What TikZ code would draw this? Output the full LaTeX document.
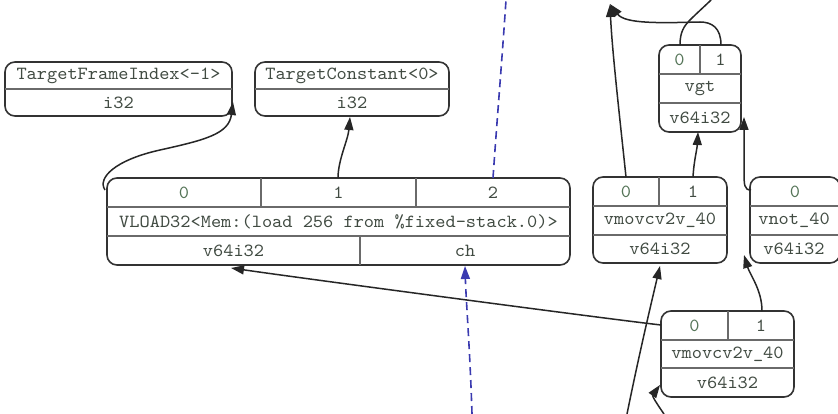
\documentclass[tikz,border=0pt]{standalone}
\usepackage{fontspec}
\setmonofont{lmmono10-regular.otf}[FakeStretch=1.05]
\usetikzlibrary{arrows.meta}
\definecolor{txt}{HTML}{414B42}
\definecolor{prt}{HTML}{557558}
\definecolor{brd}{HTML}{333333}
\definecolor{dvd}{HTML}{6A6A6A}
\definecolor{chn}{HTML}{3A3AB0}
\tikzset{
  rec/.style={draw=brd, line width=1.6pt, rounded corners=10pt, inner sep=0pt, fill=none},
  dvd/.style={draw=dvd, line width=1.1pt},
  lbl/.style={inner sep=0pt, text=txt, font=\ttfamily\fontsize{18.5}{20}\selectfont},
  prtl/.style={lbl, text=prt},
  edge/.style={draw=black!85, line width=1.5pt, -{Triangle[length=13pt,width=9pt]}},
  plain/.style={draw=black!85, line width=1.5pt},
  chain/.style={draw=chn, line width=1.6pt, dash pattern=on 8pt off 5pt},
  chainarr/.style={chain, -{Triangle[length=13pt,width=9pt]}}
}
\begin{document}
\begin{tikzpicture}[x=1pt,y=-1pt]
\useasboundingbox (0,0) rectangle (838,414);
\fill[white] (0,0) rectangle (838,414);

% TargetFrameIndex
\node[rec, minimum width=227pt, minimum height=54pt] (tfi) at (118.5,89) {};
\draw[dvd] (5,89) -- (232,89);
\node[lbl] (tfil) at (118.5,75.5) {TargetFrameIndex<-1>};
\node[lbl] (tfit) at (118.5,102.5) {i32};

% TargetConstant
\node[rec, minimum width=194pt, minimum height=54pt] (tc) at (352,89) {};
\draw[dvd] (255,89) -- (449,89);
\node[lbl] (tcl) at (352,75.5) {TargetConstant<0>};
\node[lbl] (tct) at (352,102.5) {i32};

% VLOAD32
\node[rec, minimum width=463pt, minimum height=87pt] (vl) at (338.5,221.5) {};
\draw[dvd] (107,207) -- (570,207);
\draw[dvd] (107,236) -- (570,236);
\draw[dvd] (261,178) -- (261,207);
\draw[dvd] (416,178) -- (416,207);
\draw[dvd] (360,236) -- (360,265);
\node[prtl] (vlp0) at (184,192.5) {0};
\node[lbl] (vlp1) at (338.5,192.5) {1};
\node[lbl] (vlp2) at (493,192.5) {2};
\node[lbl] (vll) at (338.5,221.5) {VLOAD32<Mem:(load 256 from \%fixed-stack.0)>};
\node[lbl] (vlt0) at (233.5,250.5) {v64i32};
\node[lbl] (vlt1) at (465,250.5) {ch};

% vgt
\node[rec, minimum width=82pt, minimum height=87pt] (vgt) at (700,88.5) {};
\draw[dvd] (659,74) -- (741,74);
\draw[dvd] (659,103) -- (741,103);
\draw[dvd] (700,45) -- (700,74);
\node[prtl] (vgtp0) at (679.5,59.5) {0};
\node[lbl] (vgtp1) at (720.5,59.5) {1};
\node[lbl] (vgtl) at (700,88.5) {vgt};
\node[lbl] (vgtt) at (700,117.5) {v64i32};

% vmovcv2v upper
\node[rec, minimum width=134pt, minimum height=86pt] (vma) at (660,220) {};
\draw[dvd] (593,206) -- (727,206);
\draw[dvd] (593,235) -- (727,235);
\draw[dvd] (659,177) -- (659,206);
\node[prtl] (vmap0) at (626,191.5) {0};
\node[lbl] (vmap1) at (693,191.5) {1};
\node[lbl] (vmal) at (660,220.5) {vmovcv2v\_40};
\node[lbl] (vmat) at (660,249) {v64i32};

% vnot
\node[rec, minimum width=90pt, minimum height=86pt] (vn) at (795,220) {};
\draw[dvd] (750,206) -- (840,206);
\draw[dvd] (750,235) -- (840,235);
\node[prtl] (vnp0) at (795,191.5) {0};
\node[lbl] (vnl) at (794,220.5) {vnot\_40};
\node[lbl] (vnt) at (794,249) {v64i32};

% vmovcv2v lower
\node[rec, minimum width=133pt, minimum height=86pt] (vmb) at (727.5,354) {};
\draw[dvd] (661,340) -- (794,340);
\draw[dvd] (661,368) -- (794,368);
\draw[dvd] (728,311) -- (728,340);
\node[prtl] (vmbp0) at (694.5,325.5) {0};
\node[lbl] (vmbp1) at (761,325.5) {1};
\node[lbl] (vmbl) at (727.5,354) {vmovcv2v\_40};
\node[lbl] (vmbt) at (727.5,382.5) {v64i32};

% connector end points
\coordinate (vlo0) at (105,190);
\coordinate (tfiin) at (233,102);
\coordinate (vlo1) at (338,178);
\coordinate (tcin) at (350,117);
\coordinate (vlo2) at (493,178);
\coordinate (topA) at (506,0);
\coordinate (botA) at (472,414);
\coordinate (vlin) at (465,266);
\coordinate (vmbo0) at (661,325);
\coordinate (vlin0) at (231,268);
\coordinate (botB) at (627,414);
\coordinate (vmain) at (660,266);
\coordinate (botC) at (664,414);
\coordinate (vmbin) at (660,385);
\coordinate (vmbo1) at (762,311);
\coordinate (vnin) at (744,255);
\coordinate (vmao0) at (626,177);
\coordinate (topB) at (610,4);
\coordinate (vmao1) at (693,177);
\coordinate (vgtin) at (698,132);
\coordinate (vno0) at (751,190);
\coordinate (vgtin2) at (744,117);
\coordinate (vgto1) at (721,45);
\coordinate (vgto0) at (680,45);
\coordinate (topC) at (711,0);

% connectors
\draw[edge] (vlo0) .. controls (97,178) and (115,160) .. (160,150) .. controls (205,140) and (229,134) .. (tfiin);
\draw[edge] (vlo1) .. controls (338,160) and (348,140) .. (tcin);
\draw[chain] (vlo2) .. controls (497,120) and (502,60) .. (topA);
\draw[chainarr] (botA) .. controls (470,350) and (466,300) .. (vlin);
\draw[edge] (vmbo0) .. controls (600,318) and (300,278) .. (vlin0);
\draw[edge] (botB) .. controls (640,350) and (652,300) .. (vmain);
\draw[edge] (botC) .. controls (657,404) and (652,396) .. (vmbin);
\draw[edge] (vmbo1) .. controls (762,290) and (750,275) .. (vnin);
\draw[edge] (vmao0) .. controls (620,120) and (612,50) .. (topB);
\draw[edge] (vmao1) .. controls (694,160) and (697,150) .. (vgtin);
\draw[edge] (vno0) .. controls (744,190) and (744,185) .. (744,170) .. controls (744,150) and (744,135) .. (vgtin2);
\draw[edge] (vgto1) .. controls (721,28) and (712,22) .. (700,22) .. controls (660,23) and (625,24) .. (topB);
\draw[plain] (vgto0) .. controls (680,32) and (684,26) .. (690,20) .. controls (698,12) and (706,5) .. (topC);
\end{tikzpicture}
\end{document}
